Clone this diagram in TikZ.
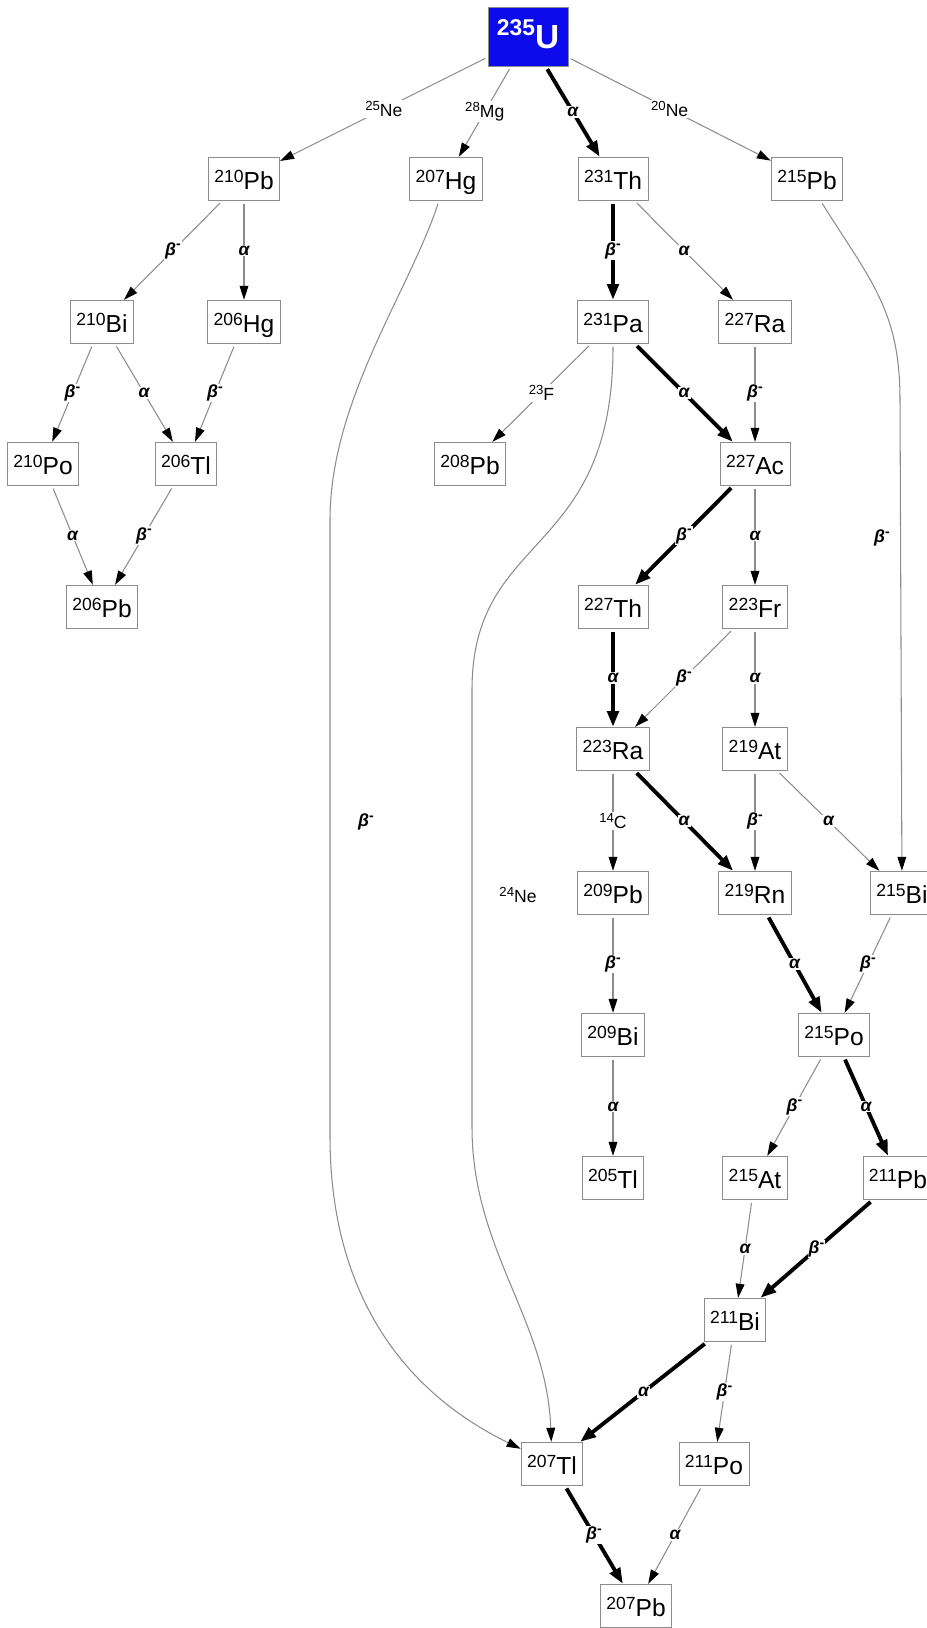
\documentclass[tikz,border=0pt]{standalone}
\usepackage{fontspec}
\setmainfont{Liberation Sans}
\usetikzlibrary{arrows.meta}

\newcommand{\nuc}[2]{{\fontsize{10}{10}\selectfont\raisebox{4pt}{#1}}#2}
\newcommand{\iso}[2]{{\fontsize{7.5}{7.5}\selectfont\raisebox{3.5pt}{#1}}#2}
\newcommand{\alp}{α}
\newcommand{\bet}{β\raisebox{3.5pt}{\fontsize{8}{8}\selectfont\upshape -}}

\begin{document}
\begin{tikzpicture}[x=0.02cm, y=-0.02cm]
        \tikzstyle{nuclide}=[draw=black!45, line width=0.5pt, fill=white, inner xsep=3.4pt, inner ysep=0pt, minimum height=0.87cm, text height=12pt, text depth=0pt, font=\fontsize{14}{14}\selectfont]
        \tikzstyle{parent}=[nuclide, fill={rgb,255:red,10;green,10;blue,235}, text=white, minimum width=1.6cm, minimum height=1.18cm, text height=12.6pt, font=\fontsize{19}{19}\selectfont\bfseries]
        \tikzstyle{decay}=[draw=black!45, line width=0.6pt, -{Stealth[inset=0pt,length=8pt,width=5pt,color=black]}, shorten <=1.5pt]
        \tikzstyle{main}=[draw=black, line width=2.2pt, -{Stealth[inset=0pt,length=9pt,width=6.5pt]}, shorten <=1.5pt]
        \tikzstyle{lbl}=[fill=white, text=black, inner sep=0.6pt, font=\fontsize{10}{10}\selectfont\bfseries\itshape]
        \tikzstyle{emit}=[fill=white, text=black, inner sep=0.6pt, font=\fontsize{10}{10}\selectfont]

        \useasboundingbox (0,0) rectangle (926,1628);

        \node[parent](u235) at (528,37){\raisebox{7pt}{\fontsize{13}{13}\selectfont 235}U};

        \node[nuclide](pb210) at (244,179){\nuc{210}{Pb}};
        \node[nuclide](hg207) at (446,179){\nuc{207}{Hg}};
        \node[nuclide](th231) at (613,179){\nuc{231}{Th}};
        \node[nuclide](pb215) at (807,179){\nuc{215}{Pb}};

        \node[nuclide](bi210) at (102,322){\nuc{210}{Bi}};
        \node[nuclide](hg206) at (244,322){\nuc{206}{Hg}};
        \node[nuclide](pa231) at (613,322){\nuc{231}{Pa}};
        \node[nuclide](ra227) at (755,322){\nuc{227}{Ra}};

        \node[nuclide](po210) at (43,464){\nuc{210}{Po}};
        \node[nuclide](tl206) at (186,464){\nuc{206}{Tl}};
        \node[nuclide](pb208) at (470,464){\nuc{208}{Pb}};
        \node[nuclide](ac227) at (755,464){\nuc{227}{Ac}};

        \node[nuclide](pb206) at (102,607){\nuc{206}{Pb}};
        \node[nuclide](th227) at (613,607){\nuc{227}{Th}};
        \node[nuclide](fr223) at (755,607){\nuc{223}{Fr}};

        \node[nuclide](ra223) at (613,749){\nuc{223}{Ra}};
        \node[nuclide](at219) at (755,749){\nuc{219}{At}};

        \node[nuclide](pb209) at (613,893){\nuc{209}{Pb}};
        \node[nuclide](rn219) at (755,893){\nuc{219}{Rn}};
        \node[nuclide](bi215) at (902,893){\nuc{215}{Bi}};

        \node[nuclide](bi209) at (613,1035){\nuc{209}{Bi}};
        \node[nuclide](po215) at (834,1035){\nuc{215}{Po}};

        \node[nuclide](tl205) at (613,1178){\nuc{205}{Tl}};
        \node[nuclide](at215) at (755,1178){\nuc{215}{At}};
        \node[nuclide](pb211) at (898,1178){\nuc{211}{Pb}};

        \node[nuclide](bi211) at (735,1320){\nuc{211}{Bi}};

        \node[nuclide](tl207) at (552,1464){\nuc{207}{Tl}};
        \node[nuclide](po211) at (714,1464){\nuc{211}{Po}};

        \node[nuclide](pb207) at (636,1606){\nuc{207}{Pb}};

        % labels standing beside the long curves
        \node[lbl](lblHg) at (366,822){\bet};
        \node[emit](lblNe) at (518,895){\iso{24}{Ne}};
        \node[lbl](lblPb) at (882,538){\bet};

        \draw[decay] (u235) -- node[emit]{\iso{25}{Ne}} (pb210);
        \draw[decay] (u235) -- node[emit]{\iso{28}{Mg}} (hg207);
        \draw[main] (u235) -- node[lbl]{\alp} (th231);
        \draw[decay] (u235) -- node[emit]{\iso{20}{Ne}} (pb215);

        \draw[decay] (pb210) -- node[lbl]{\bet} (bi210);
        \draw[decay] (pb210) -- node[lbl]{\alp} (hg206);
        \draw[decay] (bi210) -- node[lbl]{\bet} (po210);
        \draw[decay] (bi210) -- node[lbl]{\alp} (tl206);
        \draw[decay] (hg206) -- node[lbl]{\bet} (tl206);
        \draw[decay] (po210) -- node[lbl]{\alp} (pb206);
        \draw[decay] (tl206) -- node[lbl]{\bet} (pb206);

        \draw[decay] (hg207) .. controls (410,290) and (330,400) .. (330,520)
                -- (330,1136) .. controls (330,1290) and (400,1390) .. (tl207);

        \draw[main] (th231) -- node[lbl]{\bet} (pa231);
        \draw[decay] (th231) -- node[lbl]{\alp} (ra227);

        \draw[decay] (pb215) .. controls (870,280) and (900,310) .. (900,400) -- (bi215);

        \draw[decay] (pa231) -- node[emit]{\iso{23}{F}} (pb208);
        \draw[main] (pa231) -- node[lbl]{\alp} (ac227);
        \draw[decay] (pa231) .. controls (613,560) and (472,530) .. (472,690)
                -- (472,1127) .. controls (472,1250) and (547,1320) .. (tl207);
        \draw[decay] (ra227) -- node[lbl]{\bet} (ac227);

        \draw[main] (ac227) -- node[lbl]{\bet} (th227);
        \draw[decay] (ac227) -- node[lbl]{\alp} (fr223);
        \draw[main] (th227) -- node[lbl]{\alp} (ra223);
        \draw[decay] (fr223) -- node[lbl]{\bet} (ra223);
        \draw[decay] (fr223) -- node[lbl]{\alp} (at219);

        \draw[decay] (ra223) -- node[emit]{\iso{14}{C}} (pb209);
        \draw[main] (ra223) -- node[lbl]{\alp} (rn219);
        \draw[decay] (at219) -- node[lbl]{\bet} (rn219);
        \draw[decay] (at219) -- node[lbl]{\alp} (bi215);

        \draw[decay] (pb209) -- node[lbl]{\bet} (bi209);
        \draw[main] (rn219) -- node[lbl]{\alp} (po215);
        \draw[decay] (bi215) -- node[lbl]{\bet} (po215);

        \draw[decay] (bi209) -- node[lbl]{\alp} (tl205);
        \draw[decay] (po215) -- node[lbl]{\bet} (at215);
        \draw[main] (po215) -- node[lbl]{\alp} (pb211);

        \draw[decay] (at215) -- node[lbl]{\alp} (bi211);
        \draw[main] (pb211) -- node[lbl]{\bet} (bi211);

        \draw[main] (bi211) -- node[lbl]{\alp} (tl207);
        \draw[decay] (bi211) -- node[lbl]{\bet} (po211);

        \draw[main] (tl207) -- node[lbl]{\bet} (pb207);
        \draw[decay] (po211) -- node[lbl]{\alp} (pb207);

\end{tikzpicture}
\end{document}
